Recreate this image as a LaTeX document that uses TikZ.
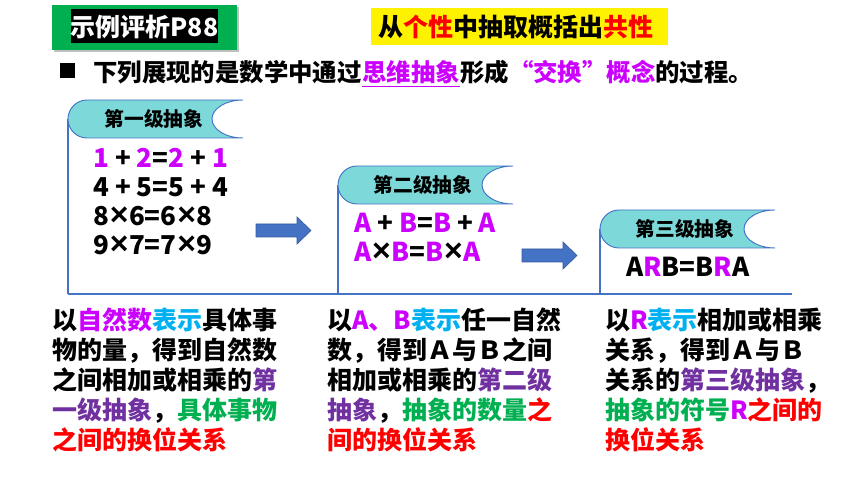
\documentclass[tikz,border=0pt]{standalone}
\usepackage{fontspec}
\setmainfont{Noto Sans CJK SC}
\newfontfamily\lsans{Liberation Sans}
\definecolor{mag}{HTML}{CC00FF}
\definecolor{cyn}{HTML}{00B0F0}
\definecolor{prp}{HTML}{7030A0}
\definecolor{grn}{HTML}{00B050}
\definecolor{framec}{HTML}{4472C4}
\definecolor{tealc}{HTML}{7DD9D9}
\definecolor{arrowc}{HTML}{4472C4}
\newcommand\mg[1]{\textcolor{mag}{#1}}
\newcommand\cy[1]{\textcolor{cyn}{#1}}
\newcommand\pp[1]{\textcolor{prp}{#1}}
\newcommand\gn[1]{\textcolor{grn}{#1}}
\newcommand\rd[1]{\textcolor{red}{#1}}
\newcommand\tms{\kern0.5pt{\lsans\bfseries\fontsize{24}{21.75}\selectfont ×}\kern0.5pt}
\newcommand\bannershape[3]{%
  \draw[bannerline] (#3,#2) -- (#1+19,#2)
    arc[start angle=270,end angle=90,radius=19] -- (#3,#2+38)
    arc[start angle=90,end angle=270,x radius=31,y radius=19] -- cycle;}
\begin{document}
\begin{tikzpicture}[x=0.75pt,y=-0.75pt,
  txt/.style={inner sep=0pt,anchor=base west,font=\bfseries\fontsize{18.3}{22}\selectfont},
  para/.style={inner sep=0pt,anchor=base west,align=left,font=\bfseries\fontsize{18.75}{22.5}\selectfont},
  eqn/.style={inner sep=0pt,anchor=base west,align=left,font=\bfseries\fontsize{19.5}{21.75}\selectfont},
  bantext/.style={inner sep=0pt,font=\bfseries\fontsize{14.8}{16}\selectfont},
  bannerline/.style={draw=framec,fill=tealc,line width=0.7pt},
  frameline/.style={draw=framec,line width=0.9pt},
  blockarrow/.style={fill=arrowc,draw=arrowc!80!black,line width=0.5pt}]
\useasboundingbox (0,0) rectangle (860,484);
% title boxes
\fill[black!25] (54,7) rectangle (239,52);
\fill[grn] (52,5) rectangle (237,50);
\fill[black] (71,9) rectangle (218,43);
\node[inner sep=0pt,text=white,font=\bfseries\fontsize{18.75}{22}\selectfont] (title) at (144.5,27) {示例评析P88};
\fill[yellow] (371,8) rectangle (668,45);
\node[txt,font=\bfseries\fontsize{18.75}{22}\selectfont] (motto) at (378,36.5) {从\rd{个性}中抽取概括出\rd{共性}};
% bullet line
\fill[black] (60,63) rectangle (75,78);
\node[txt] (l1) at (93,82) {下列展现的是数学中通过};
\node[txt,text=mag] (l2) at (l1.base east) {思维抽象};
\node[txt] (l3) at (l2.base east) {形成\mg{“交换”概念}的过程。};
\draw[draw=mag,line width=1.1pt] ([yshift=-3.5pt]l2.base west) -- ([yshift=-3.5pt]l2.base east);
% frame
\coordinate (bl) at (68,294);
\coordinate (br) at (792,294);
\draw[frameline] (bl) -- (br);
\draw[frameline] (68,119) -- (bl);
\draw[frameline] (338,185) -- (338,294);
\draw[frameline] (600,229) -- (600,294);
% banners
\bannershape{68}{100}{243}
\bannershape{338}{166}{513}
\bannershape{600}{210}{775}
\node[bantext] (b1) at (154,119) {第一级抽象};
\node[bantext] (b2) at (423,185) {第二级抽象};
\node[bantext] (b3) at (685,229) {第三级抽象};
% equations (anchor = baseline of last line)
\node[eqn] (e1) at (93,255) {\mg{1} + \mg{2}=\mg{2} + \mg{1}\\4 + 5=5 + 4\\8\tms6=6\tms8\\9\tms7=7\tms9};
\node[eqn] (e2) at (354,262) {\mg{A} + \mg{B}=\mg{B} + \mg{A}\\\mg{A}\tms\mg{B}=\mg{B}\tms\mg{A}};
\node[eqn] (e3) at (626,277) {A\mg{R}B=B\mg{R}A};
% arrows
\draw[blockarrow] (256,224) -- (297,224) -- (297,217) -- (311,230.5) -- (297,244) -- (297,237) -- (256,237) -- cycle;
\draw[blockarrow] (522,249) -- (563,249) -- (563,242) -- (577,255.5) -- (563,269) -- (563,262) -- (522,262) -- cycle;
% paragraphs (anchor = baseline of last line)
\node[para] (p1) at (52,449.5) {以\mg{自然数}\cy{表示}具体事\\物的量，得到自然数\\之间相加或相乘的\pp{第}\\\pp{一级抽象}，\gn{具体事物}\\\rd{之间的换位关系}};
\node[para] (p2) at (327,449.5) {以\mg{A、B}\cy{表示}任一自然\\数，得到Ａ与Ｂ之间\\相加或相乘的\pp{第二级}\\\pp{抽象}，\gn{抽象的数量}\rd{之}\\\rd{间的换位关系}};
\node[para] (p3) at (605,449.5) {以\mg{R}\cy{表示}相加或相乘\\关系，得到Ａ与Ｂ\\关系的\pp{第三级抽象}，\\\gn{抽象的符号}\mg{R}\rd{之间的}\\\rd{换位关系}};
\end{tikzpicture}
\end{document}
